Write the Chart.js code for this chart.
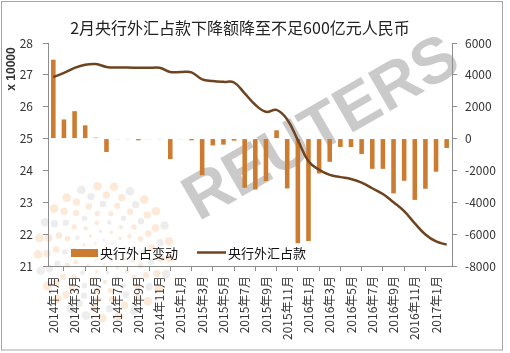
<!DOCTYPE html>
<html><head><meta charset="utf-8">
<script src="https://cdn.jsdelivr.net/npm/chart.js@4/dist/chart.umd.min.js"></script>
<style>html,body{margin:0;padding:0;background:#fff}canvas{display:block}</style>
</head><body>
<canvas id="c" width="510" height="353"></canvas>
<script>
const chartTitle = '2月央行外汇占款下降额降至不足600亿元人民币';
const leftAxisTitle = 'x 10000';
const barLabel = '央行外占变动';
const lineLabel = '央行外汇占款';
const watermark = 'REUTERS';

const months = [
  '2014年1月','2014年2月','2014年3月','2014年4月','2014年5月','2014年6月',
  '2014年7月','2014年8月','2014年9月','2014年10月','2014年11月','2014年12月',
  '2015年1月','2015年2月','2015年3月','2015年4月','2015年5月','2015年6月',
  '2015年7月','2015年8月','2015年9月','2015年10月','2015年11月','2015年12月',
  '2016年1月','2016年2月','2016年3月','2016年4月','2016年5月','2016年6月',
  '2016年7月','2016年8月','2016年9月','2016年10月','2016年11月','2016年12月',
  '2017年1月','2017年2月'
];
// monthly change (亿元, right axis)
const fxChange = [
  4950, 1200, 1720, 830, 60, -840,
  -40, -40, -110, -40, -40, -1290,
  -40, -110, -2300, -430, -380, -130,
  -3090, -3195, -2675, 520, -3130, -6570,
  -6430, -2190, -1460, -530, -530, -970,
  -1900, -1900, -3440, -2650, -3850, -3150,
  -2080, -590
];
// stock (x 10000 亿元, left axis)
const fxStock = [
  26.93, 27.06, 27.22, 27.32, 27.34, 27.25,
  27.23, 27.23, 27.22, 27.22, 27.22, 27.09,
  27.09, 27.08, 26.86, 26.81, 26.78, 26.76,
  26.42, 26.06, 25.84, 25.90, 25.60, 24.95,
  24.29, 24.02, 23.86, 23.79, 23.73, 23.62,
  23.44, 23.26, 23.00, 22.72, 22.34, 21.99,
  21.77, 21.67
];
const leftTicks = [21, 22, 23, 24, 25, 26, 27, 28];
const rightTicks = [-8000, -6000, -4000, -2000, 0, 2000, 4000, 6000];

const FONT = '"Noto Sans CJK SC", "Noto Sans", sans-serif';
const AXIS = '#8c8c8c';
const TXT = '#333333';
const BAR = 'rgb(204,124,48)';
const LINE = '#6e4420';

Chart.defaults.font.family = FONT;
Chart.defaults.font.size = 12;
Chart.defaults.color = TXT;

const deco = {
  id: 'deco',
  beforeDraw(chart) {
    const ctx = chart.ctx;
    ctx.save();
    ctx.fillStyle = '#fff';
    ctx.fillRect(0, 0, chart.width, chart.height);
    ctx.strokeStyle = '#a6a6a6';
    ctx.lineWidth = 1;
    ctx.strokeRect(1.5, 1.5, 501, 348.5);
    // dotted logo
    const cx = 104, cy = 252;
    const rings = [[12,1.3,8],[21,1.7,12],[30,2.2,15],[39,2.7,18],[48,3.2,21],[57,3.7,23],[66,4.3,25]];
    rings.forEach(([r, d, n], k) => {
      for (let j = 0; j < n; j++) {
        const a = j / n * 2 * Math.PI + k * 0.35;
        ctx.fillStyle = (j + k) % 3 === 0 ? 'rgba(185,185,185,0.25)' : 'rgba(243,176,115,0.28)';
        ctx.beginPath();
        ctx.arc(cx + r * Math.cos(a), cy + r * Math.sin(a), d, 0, 2 * Math.PI);
        ctx.fill();
      }
    });
    // watermark
    ctx.translate(322, 130);
    ctx.rotate(-30 * Math.PI / 180);
    ctx.font = 'bold 64px "Liberation Sans", Arial, sans-serif';
    ctx.fillStyle = 'rgba(150,150,150,0.5)';
    ctx.textAlign = 'center';
    ctx.textBaseline = 'middle';
    ctx.fillText(watermark, 0, 0);
    ctx.restore();
  },
  afterDraw(chart) {
    const ctx = chart.ctx;
    ctx.save();
    ctx.fillStyle = '#222';
    ctx.font = '16px ' + FONT;
    ctx.textAlign = 'center';
    ctx.textBaseline = 'middle';
    ctx.fillText(chartTitle, 240, 28);
    // left axis title
    ctx.save();
    ctx.translate(12, 69);
    ctx.rotate(-Math.PI / 2);
    ctx.font = 'bold 12px "Liberation Sans", Arial, sans-serif';
    ctx.fillStyle = TXT;
    ctx.fillText(leftAxisTitle, 0, 0);
    ctx.restore();
    // legend
    const ds = chart.data.datasets;
    ctx.font = '13px ' + FONT;
    ctx.textAlign = 'left';
    ctx.fillStyle = ds[0].backgroundColor;
    ctx.fillRect(71, 249, 27, 8);
    ctx.fillStyle = '#111';
    ctx.fillText(ds[0].label, 100, 253);
    ctx.strokeStyle = ds[1].borderColor;
    ctx.lineWidth = 2.5;
    ctx.beginPath();
    ctx.moveTo(197, 252.5);
    ctx.lineTo(226, 252.5);
    ctx.stroke();
    ctx.fillText(ds[1].label, 228, 253);
    ctx.restore();
  }
};

new Chart(document.getElementById('c'), {
  type: 'bar',
  data: {
    labels: months,
    datasets: [
      { type: 'bar', label: barLabel, data: fxChange, yAxisID: 'y1', backgroundColor: BAR,
        barPercentage: 0.43, categoryPercentage: 1, order: 1 },
      { type: 'line', label: lineLabel, data: fxStock, yAxisID: 'y', borderColor: LINE,
        backgroundColor: LINE, borderWidth: 2.5, pointRadius: 0, tension: 0.4, fill: false, order: 0 }
    ]
  },
  options: {
    responsive: false,
    animation: false,
    devicePixelRatio: 1,
    layout: { padding: { top: 43, left: 0, right: 0, bottom: 0 } },
    plugins: { legend: { display: false }, tooltip: { enabled: false }, title: { display: false } },
    scales: {
      x: {
        type: 'category', offset: true,
        grid: { offset: true, drawOnChartArea: false, drawTicks: true, tickLength: 5,
                color: c => c.type === 'tick' ? AXIS : 'rgba(0,0,0,0)' },
        border: { color: AXIS },
        ticks: { autoSkip: false, minRotation: 90, maxRotation: 90, padding: 5, color: TXT, font: { size: 12 } },
        afterBuildTicks: s => { s.ticks = s.ticks.filter(t => t.value % 2 === 0); },
        afterFit: s => { s.height = 87; }
      },
      y: {
        position: 'left', min: leftTicks[0], max: leftTicks[leftTicks.length - 1],
        afterBuildTicks: s => { s.ticks = leftTicks.map(v => ({ value: v })); },
        ticks: { padding: 10, color: TXT, font: { size: 12 } },
        grid: { drawOnChartArea: false, tickLength: 5, color: AXIS },
        border: { color: AXIS },
        afterFit: s => { s.width = 48; }
      },
      y1: {
        position: 'right', min: rightTicks[0], max: rightTicks[rightTicks.length - 1],
        afterBuildTicks: s => { s.ticks = rightTicks.map(v => ({ value: v })); },
        ticks: { padding: 8, color: TXT, font: { size: 12 }, callback: v => String(v) },
        grid: { drawOnChartArea: false, tickLength: 5, color: AXIS },
        border: { color: AXIS },
        afterFit: s => { s.width = 58; }
      }
    }
  },
  plugins: [deco]
});
</script>
</body></html>
